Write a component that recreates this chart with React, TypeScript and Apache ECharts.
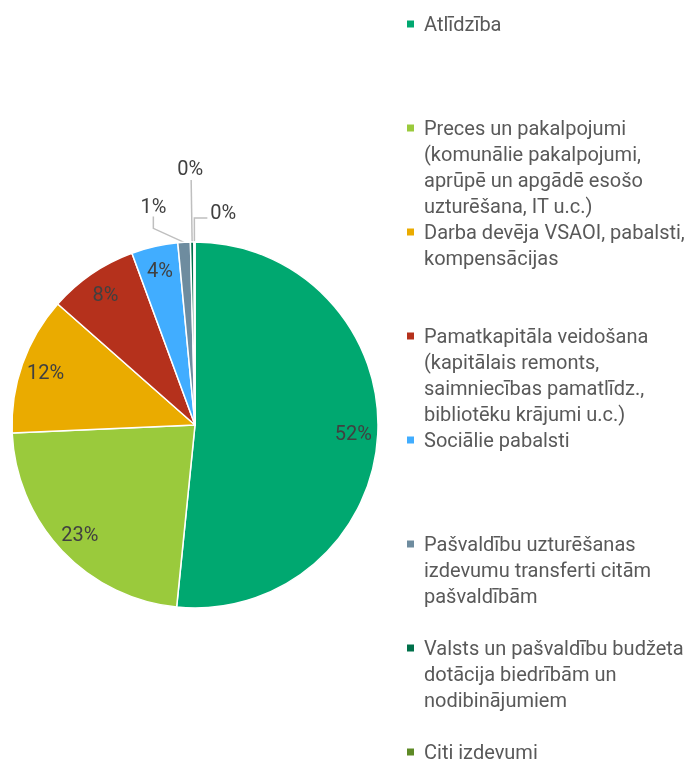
import React, { useEffect, useRef } from "react";
import * as echarts from "echarts";

const categories = [
  "Atlīdzība",
  "Preces un pakalpojumi\n(komunālie pakalpojumi,\naprūpē un apgādē esošo\nuzturēšana, IT u.c.)",
  "Darba devēja VSAOI, pabalsti,\nkompensācijas",
  "Pamatkapitāla veidošana\n(kapitālais remonts,\nsaimniecības pamatlīdz.,\nbibliotēku krājumi u.c.)",
  "Sociālie pabalsti",
  "Pašvaldību uzturēšanas\nizdevumu transferti citām\npašvaldībām",
  "Valsts un pašvaldību budžeta\ndotācija biedrībām un\nnodibinājumiem",
  "Citi izdevumi",
];
const values = [51.6, 22.7, 12.2, 7.9, 4.1, 1.1, 0.3, 0.1];
const colors = ["#00A870", "#9ACA3C", "#EAAB00", "#B5311C", "#41ADFF", "#6E8C9F", "#00704A", "#5E8A26"];

const FONT = "Roboto, 'DejaVu Sans', sans-serif";
const CENTER = [195, 425];
const R = 183;
const LEGEND_FIRST = 24;
const LEGEND_STEP = 104;
const LH = 26;

export default function App() {
  const ref = useRef<HTMLDivElement>(null);
  useEffect(() => {
    const chart = echarts.init(ref.current!, null, { renderer: "svg" });
    const fmt = (p: any) => Math.round(p.percent) + "%";
    const mainData = categories.map((name, i) => {
      const small = i >= 5;
      return {
        name,
        value: values[i],
        itemStyle: { color: colors[i] },
        label: small ? { show: true, position: "outside" } : { show: false },
        labelLine: small
          ? {
              show: true,
              length: i === 5 ? 30 : i === 6 ? 62 : 24,
              length2: i === 5 ? 12 : 0,
            }
          : { show: false },
      };
    });
    const labelData = categories.map((name, i) => ({
      name,
      value: values[i],
      label: { show: i < 5 },
    }));
    const legends = categories.map((name, i) => {
      const n = name.split("\n").length;
      const c = LEGEND_FIRST + LEGEND_STEP * i;
      return {
        orient: "vertical",
        left: 400,
        top: c - 5 - ((2 * n - 1) * LH) / 2,
        itemWidth: 9,
        itemHeight: 9,
        icon: "rect",
        data: [name],
        selectedMode: false,
        textStyle: {
          fontFamily: FONT,
          fontSize: 20,
          lineHeight: LH,
          color: "#595959",
          padding: [(n - 1) * LH, 0, 0, 4],
          rich: { r: { fontFamily: FONT, fontSize: 20, color: "#595959" } },
        },
      };
    });
    chart.setOption({
      animation: false,
      legend: legends,
      series: [
        {
          type: "pie",
          center: CENTER,
          radius: R,
          startAngle: 90,
          clockwise: true,
          avoidLabelOverlap: false,
          itemStyle: { borderColor: "#ffffff", borderWidth: 1.5 },
          label: {
            formatter: fmt,
            fontFamily: FONT,
            fontSize: 20,
            color: "#404040",
          },
          labelLine: { lineStyle: { color: "#BFBFBF", width: 1.5 } },
          labelLayout: (params: any) => {
            const pts = params.labelLinePoints;
            if (!pts || pts.length < 2) return {};
            const p0 = pts[0];
            const p1 = pts[1];
            const p2 = pts[2] || p1;
            if (params.dataIndex === 5) {
              return { x: p2[0] - 4, y: p2[1] - 6, align: "right", verticalAlign: "middle" };
            }
            if (params.dataIndex === 6) {
              return {
                x: p1[0] - 1,
                y: p1[1] - 12,
                align: "center",
                verticalAlign: "middle",
                labelLinePoints: [p0, p1, p1],
              };
            }
            if (params.dataIndex === 7) {
              const e = [p1[0] + 13, p1[1]];
              return {
                x: e[0] + 3,
                y: p1[1] - 6,
                align: "left",
                verticalAlign: "middle",
                labelLinePoints: [p0, p1, e],
              };
            }
            return {};
          },
          data: mainData,
        },
        {
          type: "pie",
          center: CENTER,
          radius: [R * 0.7, R],
          startAngle: 90,
          clockwise: true,
          silent: true,
          z: 3,
          itemStyle: { color: "rgba(0,0,0,0)", borderWidth: 0 },
          emphasis: { disabled: true },
          label: {
            position: "inside",
            formatter: fmt,
            fontFamily: FONT,
            fontSize: 20,
            color: "#404040",
          },
          labelLine: { show: false },
          data: labelData,
        },
      ],
    });
    return () => chart.dispose();
  }, []);
  return (
    <div
      ref={ref}
      style={{ position: "fixed", left: 0, top: 0, width: 698, height: 769 }}
    />
  );
}
